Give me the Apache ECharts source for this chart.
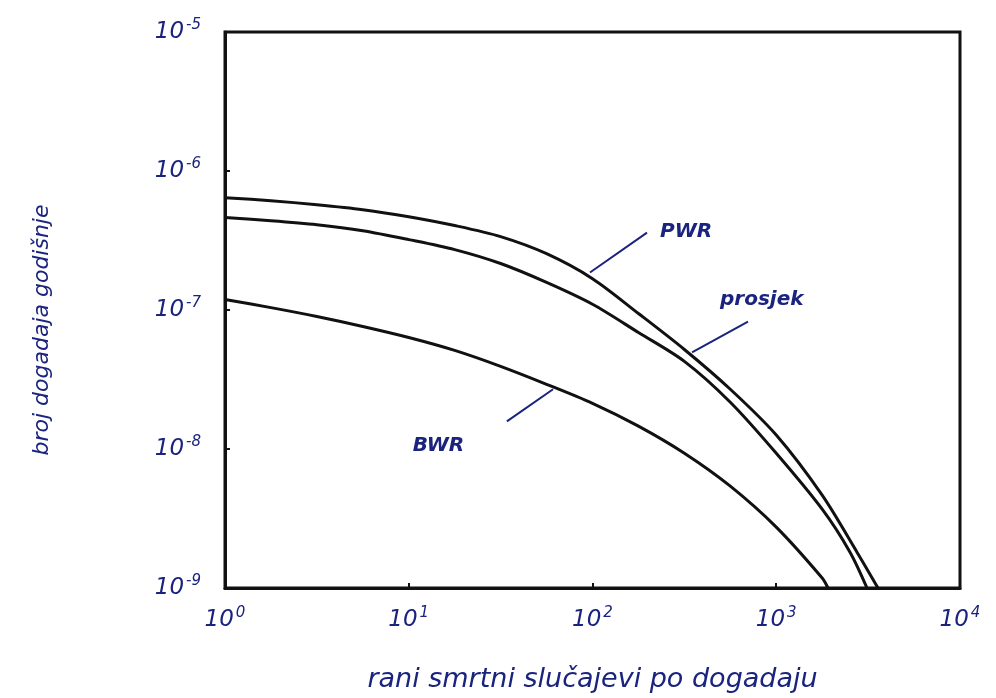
<!DOCTYPE html>
<html>
<head>
<meta charset="utf-8">
<script src="https://cdn.jsdelivr.net/npm/echarts@6/dist/echarts.min.js"></script>
<style>html,body{margin:0;padding:0;background:#fff}#c{width:996px;height:698px}</style>
</head>
<body>
<div id="c"></div>
<script>
// Data (x: rani smrtni slučajevi, y: broj događaja godišnje)
const pwrX = [1, 1.778, 3.162, 5.623, 10, 17.78, 31.62, 56.23, 100, 177.8, 316.2, 562.3, 1000, 1778, 2751, 3578];
const pwrY = [6.43e-7, 6.11e-7, 5.72e-7, 5.27e-7, 4.69e-7, 4.05e-7, 3.37e-7, 2.54e-7, 1.68e-7, 9.44e-8, 5.20e-8, 2.69e-8, 1.26e-8, 4.65e-9, 1.81e-9, 1.0e-9];
const avgX = [1, 1.778, 3.162, 5.623, 10, 17.78, 31.62, 56.23, 100, 177.8, 316.2, 562.3, 1000, 1778, 2520, 3118];
const avgY = [4.62e-7, 4.39e-7, 4.11e-7, 3.72e-7, 3.21e-7, 2.72e-7, 2.16e-7, 1.58e-7, 1.10e-7, 6.89e-8, 4.27e-8, 2.17e-8, 9.32e-9, 3.69e-9, 1.81e-9, 1.0e-9];
const bwrX = [1, 1.778, 3.162, 5.623, 10, 17.78, 31.62, 56.23, 100, 177.8, 316.2, 562.3, 1000, 1778, 1912];
const bwrY = [1.19e-7, 1.04e-7, 8.98e-8, 7.61e-8, 6.34e-8, 5.12e-8, 3.93e-8, 2.92e-8, 2.13e-8, 1.46e-8, 9.32e-9, 5.40e-9, 2.74e-9, 1.18e-9, 1.0e-9];

// Annotation labels and leader lines (data coordinates)
const labelNames = ['PWR', 'prosjek', 'BWR'];
const labelPos = [[233, 3.66e-7], [494, 1.19e-7], [10.5, 1.05e-8]];
const leaders = [
  [[96.9, 1.86e-7], [198, 3.60e-7]],
  [[348, 4.96e-8], [702, 8.26e-8]],
  [[61, 2.69e-8], [34.2, 1.58e-8]]
];

const xTitle = 'rani smrtni slučajevi po dogadaju';
const yTitle = 'broj dogadaja godišnje';

const ink = '#1a237e';
const fontFam = 'DejaVu Sans';
const zip = (xs, ys) => xs.map((x, i) => [x, ys[i]]);

const pow10 = v => { const e = Math.round(Math.log10(v)); return '{b|10}{s|' + e + '}'; };
const rich = {
  b: {fontSize: 23, fontStyle: 'italic', color: ink, fontFamily: fontFam},
  s: {fontSize: 15, fontStyle: 'italic', color: ink, fontFamily: fontFam, verticalAlign: 'top', padding: [0, 0, 14, 2]}
};

const curveSeries = [[pwrX, pwrY], [avgX, avgY], [bwrX, bwrY]].map(([xs, ys]) => ({
  type: 'line', data: zip(xs, ys), smooth: 0.3, symbol: 'none',
  lineStyle: {color: '#111', width: 3}, z: 3
}));
const leaderSeries = leaders.map(l => ({
  type: 'line', data: l, symbol: 'none', lineStyle: {color: ink, width: 2}, z: 4
}));
const labelSeries = {
  type: 'scatter', symbolSize: 0, z: 5, itemStyle: {opacity: 1},
  data: labelPos.map((p, i) => ({value: p, name: labelNames[i]})),
  label: {show: true, position: 'right', distance: 0, formatter: p => p.name, opacity: 1,
    color: ink, fontSize: 20, fontStyle: 'italic', fontWeight: 'bold', fontFamily: fontFam}
};

const chart = echarts.init(document.getElementById('c'));
chart.setOption({
  backgroundColor: '#fff',
  animation: false,
  grid: {left: 225, top: 32, right: 36, bottom: 109, show: true, borderColor: '#111', borderWidth: 3},
  xAxis: {
    type: 'log', logBase: 10, min: 1, max: 10000,
    name: xTitle, nameLocation: 'middle', nameGap: 78,
    nameTextStyle: {color: ink, fontSize: 27, fontStyle: 'italic', fontFamily: fontFam},
    axisLine: {lineStyle: {color: '#111', width: 3}},
    axisTick: {inside: true, length: 5, lineStyle: {color: '#111', width: 2}},
    axisLabel: {formatter: pow10, rich: rich, margin: 18},
    splitLine: {show: false}
  },
  yAxis: {
    type: 'log', logBase: 10, min: 1e-9, max: 1e-5,
    name: yTitle, nameLocation: 'middle', nameGap: 172, nameRotate: 90,
    nameTextStyle: {color: ink, fontSize: 22, fontStyle: 'italic', fontFamily: fontFam, padding: [0, 40, 0, 0]},
    axisLine: {lineStyle: {color: '#111', width: 3}},
    axisTick: {inside: true, length: 5, lineStyle: {color: '#111', width: 2}},
    axisLabel: {formatter: pow10, rich: rich, margin: 24},
    splitLine: {show: false}
  },
  series: [...curveSeries, ...leaderSeries, labelSeries]
});
</script>
</body>
</html>
